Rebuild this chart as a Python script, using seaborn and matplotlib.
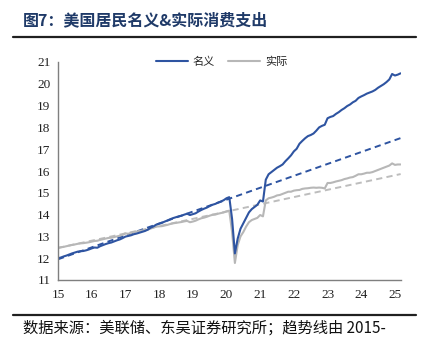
import numpy as np
import pandas as pd
import matplotlib
matplotlib.use("Agg")
import matplotlib.pyplot as plt
import seaborn as sns
from matplotlib.lines import Line2D

# Monthly personal consumption expenditures, trillions of US dollars (SAAR)
nominal_2015 = [12.00, 12.03, 12.08, 12.12, 12.17, 12.22, 12.26, 12.30, 12.32, 12.33, 12.36, 12.40]
nominal_2016 = [12.45, 12.49, 12.48, 12.55, 12.60, 12.65, 12.69, 12.72, 12.77, 12.82, 12.86, 12.92]
nominal_2017 = [12.99, 13.02, 13.05, 13.10, 13.13, 13.17, 13.21, 13.25, 13.31, 13.40, 13.46, 13.54]
nominal_2018 = [13.58, 13.62, 13.68, 13.73, 13.79, 13.84, 13.88, 13.92, 13.95, 14.00, 14.04, 13.98]
nominal_2019 = [14.02, 14.06, 14.14, 14.21, 14.27, 14.32, 14.39, 14.45, 14.49, 14.55, 14.60, 14.66]
nominal_2020 = [14.75, 14.80, 13.80, 12.22, 12.90, 13.35, 13.60, 13.85, 14.10, 14.25, 14.35, 14.45]
nominal_2021 = [14.65, 14.60, 15.60, 15.85, 15.95, 16.05, 16.15, 16.22, 16.30, 16.45, 16.58, 16.72]
nominal_2022 = [16.90, 17.02, 17.25, 17.38, 17.50, 17.60, 17.65, 17.72, 17.85, 18.00, 18.07, 18.12]
nominal_2023 = [18.42, 18.48, 18.52, 18.62, 18.70, 18.80, 18.88, 18.98, 19.05, 19.15, 19.22, 19.35]
nominal_2024 = [19.42, 19.48, 19.55, 19.60, 19.65, 19.72, 19.82, 19.90, 19.98, 20.08, 20.20, 20.45]
nominal_2025 = [20.38, 20.42, 20.48]

real_2015 = [12.47, 12.50, 12.52, 12.55, 12.58, 12.61, 12.63, 12.66, 12.68, 12.69, 12.71, 12.73]
real_2016 = [12.76, 12.79, 12.80, 12.84, 12.87, 12.90, 12.93, 12.94, 12.97, 13.00, 13.03, 13.07]
real_2017 = [13.14, 13.12, 13.16, 13.20, 13.22, 13.25, 13.27, 13.29, 13.31, 13.36, 13.40, 13.45]
real_2018 = [13.46, 13.47, 13.50, 13.53, 13.57, 13.60, 13.62, 13.64, 13.66, 13.69, 13.71, 13.65]
real_2019 = [13.68, 13.72, 13.78, 13.83, 13.86, 13.90, 13.95, 13.99, 14.00, 14.04, 14.07, 14.10]
real_2020 = [14.15, 14.18, 13.20, 11.78, 12.60, 13.00, 13.20, 13.45, 13.65, 13.75, 13.80, 13.85]
real_2021 = [13.98, 13.92, 14.65, 14.75, 14.78, 14.82, 14.88, 14.90, 14.95, 15.00, 15.05, 15.05]
real_2022 = [15.10, 15.12, 15.13, 15.18, 15.20, 15.21, 15.23, 15.24, 15.23, 15.24, 15.23, 15.20]
real_2023 = [15.45, 15.45, 15.48, 15.52, 15.55, 15.58, 15.63, 15.66, 15.70, 15.72, 15.78, 15.85]
real_2024 = [15.85, 15.88, 15.92, 15.92, 15.95, 16.00, 16.05, 16.10, 16.15, 16.20, 16.25, 16.35]
real_2025 = [16.28, 16.30, 16.30]

# Linear trend lines fitted on 2015-2019 data (start / end values)
trend_years = [15.0, 25.17]
nominal_trend = [11.95, 17.51]
real_trend = [12.47, 15.86]

x_ticks = [15, 16, 17, 18, 19, 20, 21, 22, 23, 24, 25]
y_ticks = [11, 12, 13, 14, 15, 16, 17, 18, 19, 20, 21]

nominal = (nominal_2015 + nominal_2016 + nominal_2017 + nominal_2018 + nominal_2019 +
           nominal_2020 + nominal_2021 + nominal_2022 + nominal_2023 + nominal_2024 + nominal_2025)
real = (real_2015 + real_2016 + real_2017 + real_2018 + real_2019 +
        real_2020 + real_2021 + real_2022 + real_2023 + real_2024 + real_2025)

months = pd.date_range("2015-01-01", periods=len(nominal), freq="MS")
yr = (months.year - 2000) + (months.month - 1) / 12.0

df = pd.DataFrame({"yr": yr, "名义": nominal, "实际": real})
trend = pd.DataFrame({"yr": trend_years, "nom": nominal_trend, "real": real_trend})

sns.set_theme(style="white")
plt.rcParams["font.family"] = ["Noto Sans CJK SC", "DejaVu Sans"]

BLUE = "#2E54A1"
GREY = "#B7B7B7"

fig = plt.figure(figsize=(4.27, 3.43), dpi=100)
ax = fig.add_axes([58 / 427, 1 - 280 / 343, (401 - 58) / 427, (280 - 62) / 343])

sns.lineplot(data=trend, x="yr", y="real", ax=ax, color="#BDBDBD", lw=1.4,
             linestyle=(0, (3.2, 2.2)))
sns.lineplot(data=trend, x="yr", y="nom", ax=ax, color=BLUE, lw=1.4,
             linestyle=(0, (3.2, 2.2)))
sns.lineplot(data=df, x="yr", y="实际", ax=ax, color=GREY, lw=1.5)
sns.lineplot(data=df, x="yr", y="名义", ax=ax, color=BLUE, lw=1.5)

ax.set_xlim(15, 25.18)
ax.set_ylim(11, 21)
ax.set_xticks(x_ticks)
ax.set_yticks(y_ticks)
ax.set_xticklabels([str(v) for v in x_ticks], family="Liberation Serif", fontsize=9.5)
ax.set_yticklabels([str(v) for v in y_ticks], family="Liberation Serif", fontsize=9.5)
ax.set_xlabel("")
ax.set_ylabel("")
for s in ("top", "right"):
    ax.spines[s].set_visible(False)
for s in ("left", "bottom"):
    ax.spines[s].set_color("#7F7F7F")
    ax.spines[s].set_linewidth(1.0)
ax.tick_params(axis="y", direction="out", length=3, width=0.8, pad=2.5, colors="#222222")
ax.tick_params(axis="x", direction="inout", length=5, width=0.8, pad=4, colors="#222222")
ax.tick_params(axis="both", which="both", color="#7F7F7F")
ax.grid(False)

handles = [Line2D([], [], color=BLUE, lw=1.5), Line2D([], [], color=GREY, lw=1.5)]
ax.legend(handles, ["名义", "实际"], loc="center", bbox_to_anchor=(0.477, 1.0), ncol=2,
          frameon=False, fontsize=8, handlelength=2.9, handletextpad=0.4,
          columnspacing=1.2, borderaxespad=0)

fig.text(23 / 427, 1 - 20 / 343, "图7：美国居民名义&实际消费支出", fontsize=11.5,
         fontweight="bold", color="#1F3A68", va="center", ha="left")
fig.add_artist(Line2D([13 / 427, 416 / 427], [1 - 37 / 343, 1 - 37 / 343],
                      color="#202020", lw=1.6, transform=fig.transFigure))
fig.add_artist(Line2D([13 / 427, 416 / 427], [1 - 315 / 343, 1 - 315 / 343],
                      color="#202020", lw=1.6, transform=fig.transFigure))
fig.text(23 / 427, 1 - 328 / 343, "数据来源：美联储、东吴证券研究所；趋势线由 2015-",
         fontsize=11, color="#111111", va="center", ha="left")

fig.savefig("out.png", dpi=100)
